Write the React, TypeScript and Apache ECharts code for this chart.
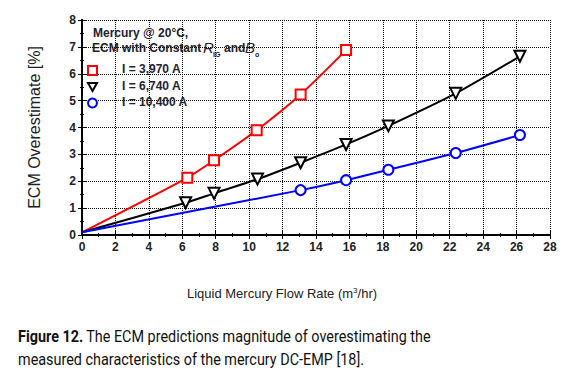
import React, { useEffect, useRef } from "react";
import * as echarts from "echarts";

const redX = [0, 6.3, 7.9, 10.45, 13.08, 15.8];
const redY = [0.1, 2.13, 2.78, 3.9, 5.23, 6.88];
const blackX = [0, 6.2, 7.9, 10.5, 13.08, 15.8, 18.33, 22.36, 26.2];
const blackY = [0.1, 1.2, 1.55, 2.08, 2.69, 3.37, 4.06, 5.27, 6.65];
const blueX = [0, 13.08, 15.8, 18.33, 22.36, 26.2];
const blueY = [0.1, 1.67, 2.04, 2.43, 3.05, 3.72];
const xTicks = [0, 2, 4, 6, 8, 10, 12, 14, 16, 18, 20, 22, 24, 26, 28];
const yTicks = [0, 1, 2, 3, 4, 5, 6, 7, 8];
const legendNames = ["I = 3,970 A", "I = 6,740 A", "I = 10,400 A"];

function pts(xs: number[], ys: number[]) {
  return xs.map((x, i) =>
    i === 0 ? { value: [x, ys[i]], symbol: "none" } : { value: [x, ys[i]] }
  );
}

export default function App() {
  const ref = useRef<HTMLDivElement>(null);
  useEffect(() => {
    const chart = echarts.init(ref.current!, null, { renderer: "svg" });
    const axisFont = { fontFamily: "Liberation Sans", fontSize: 12, color: "#222", fontWeight: "bold" as const };
    const baseX = {
      type: "value",
      min: xTicks[0],
      max: xTicks[xTicks.length - 1],
      interval: 2,
      axisLine: { show: true, lineStyle: { color: "#000", width: 2 } },
      axisTick: { show: true, inside: true, length: 4, lineStyle: { color: "#000" } },
      minorTick: { show: true, splitNumber: 2, length: 2, lineStyle: { color: "#000" } },
    };
    const baseY = {
      type: "value",
      min: yTicks[0],
      max: yTicks[yTicks.length - 1],
      interval: 1,
      axisLine: { show: true, lineStyle: { color: "#000", width: 2 } },
      axisTick: { show: true, inside: true, length: 4, lineStyle: { color: "#000" } },
      minorTick: { show: true, splitNumber: 2, length: 2, lineStyle: { color: "#000" } },
    };
    const mk = (name: string, xs: number[], ys: number[], color: string, symbol: string, rotate = 0, size = 10) => ({
      name,
      type: "line",
      data: pts(xs, ys),
      smooth: 0.2,
      symbol,
      symbolSize: size,
      symbolRotate: rotate,
      showAllSymbol: true,
      lineStyle: { color, width: 2 },
      itemStyle: { color: "#fff", borderColor: color, borderWidth: 2 },
      z: 5,
    });
    const legTop = [70, 87, 103];
    const legColors = ["#ff0000", "#000000", "#0000ff"];
    const legSymbols = [
      { type: "rect", shape: { x: 88, y: legTop[0] - 4, width: 9, height: 9 } },
      { type: "polygon", shape: { points: [[88, legTop[1] - 4], [97, legTop[1] - 4], [92.5, legTop[1] + 4]] } },
      { type: "circle", shape: { cx: 92.5, cy: legTop[2], r: 4.5 } },
    ];
    const hdr = { fontFamily: "Liberation Sans", fontSize: 12, fontWeight: "bold", fill: "#1e2233" };
    const ital = { fontFamily: "Liberation Sans", fontSize: 15, fontStyle: "italic", fill: "#1e2233" };
    const sub = { fontFamily: "Liberation Sans", fontSize: 7, fontWeight: "bold", fill: "#1e2233" };
    chart.setOption({
      animation: false,
      backgroundColor: "#fff",
      grid: { left: 82, right: 36, top: 20, bottom: 138 },
      xAxis: [
        {
          ...baseX,
          position: "bottom",
          axisLabel: { ...axisFont, margin: 6 },
          splitLine: { show: true, lineStyle: { type: "dotted", color: "#000", width: 1 } },
        },
        { ...baseX, position: "top", axisLabel: { show: false }, splitLine: { show: false } },
      ],
      yAxis: [
        {
          ...baseY,
          position: "left",
          axisLabel: { ...axisFont, margin: 6 },
          splitLine: { show: true, lineStyle: { type: "dotted", color: "#000", width: 1 } },
          name: "ECM Overestimate [%]",
          nameLocation: "middle",
          nameGap: 40,
          nameTextStyle: { fontFamily: "Liberation Sans", fontSize: 16, color: "#222" },
        },
        { ...baseY, position: "right", axisLabel: { show: false }, splitLine: { show: false } },
      ],
      series: [
        mk(legendNames[0], redX, redY, "#ff0000", "rect", 0, 10),
        mk(legendNames[1], blackX, blackY, "#000000", "triangle", 180, 11),
        mk(legendNames[2], blueX, blueY, "#0000ff", "circle", 0, 10),
      ],
      graphic: [
        {
          type: "text",
          x: 282,
          y: 293,
          style: {
            text: "Liquid Mercury Flow Rate (m{sup|3}/hr)",
            align: "center",
            verticalAlign: "middle",
            fontFamily: "Liberation Sans",
            fontSize: 13,
            fill: "#222",
            rich: { sup: { fontSize: 8, verticalAlign: "top", fontFamily: "Liberation Sans", fill: "#222", lineHeight: 14 } },
          },
        },
        { type: "text", left: 93, top: 27, style: { text: "Mercury @ 20°C,", ...hdr } },
        { type: "text", left: 92, top: 42, style: { text: "ECM with Constant", ...hdr } },
        { type: "text", left: 203, top: 40, style: { text: "R", ...ital } },
        { type: "text", left: 213, top: 51, style: { text: "IG", ...sub } },
        { type: "text", left: 224, top: 42, style: { text: "and", ...hdr } },
        { type: "text", left: 245, top: 40, style: { text: "B", ...ital } },
        { type: "text", left: 255, top: 51, style: { text: "o", ...sub } },
        ...legSymbols.map((s, i) => ({
          ...s,
          style: { fill: "#fff", stroke: legColors[i], lineWidth: 2 },
          z: 10,
        })),
        ...legendNames.map((n, i) => ({
          type: "text",
          left: 122,
          top: legTop[i] - 7,
          style: { text: n, ...hdr },
          z: 10,
        })),
        {
          type: "text",
          x: 18,
          y: 325,
          scaleX: 0.9,
          style: {
            text: "{b|Figure 12.} {n|The ECM predictions magnitude of overestimating the}\n{n|measured characteristics of the mercury DC-EMP [18].}",
            rich: {
              b: { fontFamily: "Roboto", fontSize: 16, fontWeight: "bold", fill: "#111", lineHeight: 23 },
              n: { fontFamily: "Roboto", fontSize: 16, fill: "#111", lineHeight: 23 },
            },
          },
        },
      ],
    });
    return () => chart.dispose();
  }, []);
  return <div ref={ref} style={{ position: "absolute", left: 0, top: 0, width: 586, height: 373 }} />;
}
